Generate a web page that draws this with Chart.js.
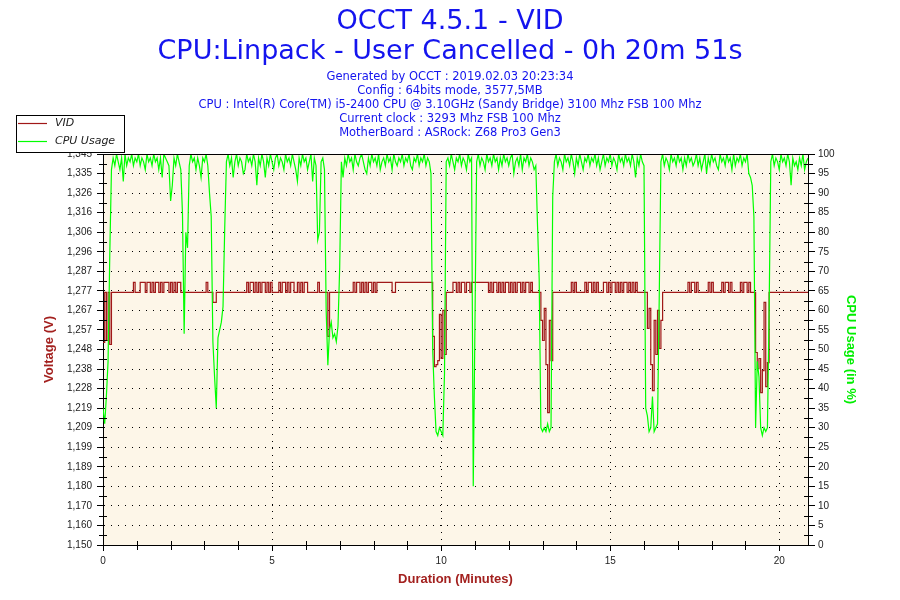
<!DOCTYPE html>
<html>
<head>
<meta charset="utf-8">
<title>OCCT 4.5.1 - VID</title>
<script src="https://cdn.jsdelivr.net/npm/chart.js@4.4.1/dist/chart.umd.min.js"></script>
<style>
  html, body { margin: 0; padding: 0; background: #fff; }
  #wrap { width: 900px; height: 600px; }
</style>
</head>
<body>
<div id="wrap"><canvas id="grafico" width="900" height="600"></canvas></div>
<script>
// Header texts
const titleLines = ['OCCT 4.5.1 - VID', 'CPU:Linpack - User Cancelled - 0h 20m 51s'];
const infoLines = [
  'Generated by OCCT : 2019.02.03 20:23:34',
  'Config : 64bits mode, 3577,5MB',
  'CPU : Intel(R) Core(TM) i5-2400 CPU @ 3.10GHz (Sandy Bridge) 3100 Mhz FSB 100 Mhz',
  'Current clock : 3293 Mhz FSB 100 Mhz',
  'MotherBoard : ASRock: Z68 Pro3 Gen3'
];
const seriesNames = ['VID', 'CPU Usage'];
const seriesColors = ['#a01818', '#00ff00'];

// One sample every 3 seconds
const sampleSeconds = 3;

const vidValues = [
  1.251, 1.276, 1.252, 1.276, 1.250, 1.276, 1.276, 1.276, 1.276, 1.276,
  1.276, 1.276, 1.276, 1.276, 1.276, 1.276, 1.276, 1.276, 1.281, 1.276,
  1.276, 1.276, 1.281, 1.281, 1.281, 1.276, 1.281, 1.281, 1.276, 1.281,
  1.276, 1.281, 1.281, 1.276, 1.281, 1.276, 1.281, 1.281, 1.281, 1.276,
  1.281, 1.276, 1.281, 1.276, 1.281, 1.281, 1.276, 1.276, 1.276, 1.276,
  1.276, 1.276, 1.276, 1.276, 1.276, 1.276, 1.276, 1.276, 1.276, 1.276,
  1.276, 1.281, 1.276, 1.276, 1.276, 1.271, 1.271, 1.276, 1.276, 1.276,
  1.276, 1.276, 1.276, 1.276, 1.276, 1.276, 1.276, 1.276, 1.276, 1.276,
  1.276, 1.276, 1.276, 1.276, 1.276, 1.281, 1.276, 1.281, 1.281, 1.276,
  1.281, 1.276, 1.281, 1.276, 1.281, 1.281, 1.276, 1.281, 1.276, 1.281,
  1.276, 1.276, 1.276, 1.276, 1.281, 1.276, 1.281, 1.281, 1.276, 1.281,
  1.276, 1.281, 1.281, 1.276, 1.276, 1.281, 1.276, 1.281, 1.276, 1.281,
  1.281, 1.276, 1.276, 1.276, 1.276, 1.276, 1.276, 1.281, 1.276, 1.276,
  1.276, 1.276, 1.276, 1.254, 1.276, 1.276, 1.276, 1.276, 1.276, 1.276,
  1.276, 1.276, 1.276, 1.276, 1.276, 1.276, 1.276, 1.276, 1.281, 1.276,
  1.281, 1.281, 1.276, 1.281, 1.276, 1.281, 1.276, 1.281, 1.281, 1.276,
  1.281, 1.276, 1.281, 1.281, 1.281, 1.281, 1.281, 1.281, 1.281, 1.281,
  1.281, 1.276, 1.276, 1.281, 1.281, 1.281, 1.281, 1.281, 1.281, 1.281,
  1.281, 1.281, 1.281, 1.281, 1.281, 1.281, 1.281, 1.281, 1.281, 1.281,
  1.281, 1.281, 1.281, 1.281, 1.281, 1.254, 1.239, 1.240, 1.242, 1.265,
  1.243, 1.267, 1.245, 1.276, 1.276, 1.276, 1.276, 1.281, 1.281, 1.276,
  1.281, 1.276, 1.281, 1.281, 1.276, 1.281, 1.281, 1.276, 1.281, 1.281,
  1.281, 1.281, 1.281, 1.281, 1.281, 1.281, 1.281, 1.281, 1.276, 1.281,
  1.276, 1.281, 1.281, 1.276, 1.281, 1.276, 1.281, 1.276, 1.281, 1.281,
  1.276, 1.281, 1.276, 1.281, 1.276, 1.281, 1.281, 1.276, 1.281, 1.276,
  1.281, 1.281, 1.276, 1.281, 1.276, 1.276, 1.276, 1.276, 1.276, 1.262,
  1.252, 1.268, 1.240, 1.216, 1.262, 1.242, 1.276, 1.276, 1.276, 1.276,
  1.276, 1.276, 1.276, 1.276, 1.276, 1.276, 1.276, 1.281, 1.276, 1.281,
  1.276, 1.276, 1.276, 1.276, 1.276, 1.281, 1.276, 1.281, 1.281, 1.276,
  1.281, 1.276, 1.281, 1.276, 1.276, 1.276, 1.281, 1.281, 1.276, 1.281,
  1.276, 1.281, 1.281, 1.276, 1.281, 1.276, 1.281, 1.276, 1.281, 1.281,
  1.276, 1.281, 1.276, 1.281, 1.276, 1.281, 1.276, 1.276, 1.276, 1.276,
  1.276, 1.276, 1.258, 1.268, 1.240, 1.227, 1.262, 1.245, 1.267, 1.248,
  1.262, 1.276, 1.276, 1.276, 1.276, 1.276, 1.276, 1.276, 1.276, 1.276,
  1.276, 1.276, 1.276, 1.276, 1.276, 1.276, 1.281, 1.276, 1.281, 1.281,
  1.276, 1.281, 1.276, 1.276, 1.276, 1.276, 1.276, 1.276, 1.281, 1.276,
  1.281, 1.276, 1.276, 1.276, 1.276, 1.276, 1.281, 1.276, 1.281, 1.281,
  1.276, 1.281, 1.276, 1.276, 1.276, 1.276, 1.276, 1.281, 1.276, 1.281,
  1.281, 1.276, 1.281, 1.276, 1.276, 1.276, 1.246, 1.238, 1.243, 1.226,
  1.237, 1.271, 1.229, 1.241, 1.276, 1.276, 1.276, 1.276, 1.276, 1.276,
  1.276, 1.276, 1.276, 1.276, 1.276, 1.276, 1.276, 1.276, 1.276, 1.276,
  1.276, 1.276, 1.276, 1.276, 1.276, 1.276, 1.276, 1.276
];

const cpuValues = [
  35, 31, 38, 47, 74, 96, 99, 97, 100, 98,
  96, 99, 93, 100, 97, 99, 98, 100, 97, 99,
  98, 100, 97, 99, 98, 96, 100, 98, 99, 97,
  100, 98, 99, 96, 99, 94, 100, 99, 98, 97,
  88, 92, 99, 97, 100, 98, 96, 85, 54, 80,
  76, 97, 100, 98, 99, 96, 99, 97, 94, 99,
  98, 100, 97, 90, 84, 52, 43, 35, 53, 55,
  57, 61, 81, 98, 100, 97, 99, 94, 98, 100,
  97, 99, 98, 95, 96, 100, 98, 99, 97, 100,
  98, 92, 99, 97, 100, 98, 94, 99, 97, 100,
  98, 96, 99, 100, 97, 99, 98, 96, 100, 98,
  99, 97, 100, 98, 96, 93, 99, 97, 100, 98,
  99, 96, 98, 100, 93, 99, 97, 78, 80, 98,
  99, 96, 60, 46, 55, 57, 53, 54, 52, 56,
  71, 98, 94, 99, 97, 100, 98, 99, 96, 100,
  98, 97, 99, 100, 98, 96, 95, 99, 97, 100,
  98, 99, 97, 100, 96, 98, 99, 97, 100, 98,
  99, 96, 100, 98, 97, 99, 98, 100, 97, 99,
  98, 100, 97, 96, 99, 98, 100, 97, 99, 98,
  100, 97, 99, 98, 95, 50, 38, 29, 28, 30,
  29, 28, 44, 98, 99, 97, 100, 98, 96, 99,
  98, 100, 97, 99, 98, 96, 100, 98, 99, 15,
  56, 98, 100, 97, 99, 98, 96, 100, 98, 99,
  97, 100, 98, 99, 96, 99, 97, 100, 98, 99,
  97, 99, 100, 95, 98, 99, 97, 100, 96, 99,
  98, 100, 97, 99, 98, 96, 97, 82, 68, 30,
  29, 30, 29, 31, 29, 30, 89, 98, 100, 97,
  99, 98, 96, 100, 98, 99, 97, 100, 98, 95,
  99, 97, 100, 98, 96, 99, 98, 100, 97, 99,
  98, 100, 97, 99, 96, 98, 100, 97, 99, 98,
  100, 97, 99, 98, 96, 100, 98, 99, 97, 100,
  98, 99, 97, 100, 98, 94, 99, 97, 100, 98,
  97, 35, 33, 29, 30, 38, 29, 30, 31, 63,
  98, 100, 97, 99, 98, 96, 100, 98, 99, 97,
  100, 98, 99, 96, 99, 97, 100, 98, 99, 97,
  98, 100, 97, 99, 96, 98, 100, 95, 99, 97,
  100, 98, 99, 97, 96, 100, 98, 99, 97, 100,
  98, 99, 96, 100, 97, 99, 98, 100, 97, 99,
  98, 100, 95, 94, 92, 84, 30, 47, 43, 30,
  28, 30, 29, 30, 60, 98, 100, 97, 99, 98,
  96, 100, 98, 99, 97, 100, 98, 92, 99, 97,
  98, 96, 99, 97, 100, 96, 98, 99
];

// Axis tick labels as printed by OCCT
const voltTickLabels = ['1,150', '1,160', '1,170', '1,180', '1,189', '1,199', '1,209', '1,219', '1,228', '1,238',
  '1,248', '1,257', '1,267', '1,277', '1,287', '1,296', '1,306', '1,316', '1,326', '1,335', '1,345'];
const cpuTickLabels = ['0', '5', '10', '15', '20', '25', '30', '35', '40', '45', '50',
  '55', '60', '65', '70', '75', '80', '85', '90', '95', '100'];
const minuteTicks = [0, 5, 10, 15, 20];
const durationMinutes = 20 + 51 / 60;

const voltMin = parseFloat(voltTickLabels[0].replace(',', '.'));
const voltMax = parseFloat(voltTickLabels[voltTickLabels.length - 1].replace(',', '.'));

// Sample time in minutes
const minutes = vidValues.map((_, i) => i * sampleSeconds / 60);

const axisRed = '#a3211f';
const tickFont = { family: '"Liberation Sans", Arial, sans-serif', size: 10 };

// Background, frame, minor ticks, titles and legend box
const occtLook = {
  id: 'occtLook',
  beforeDraw(chart) {
    const { ctx, chartArea: a } = chart;
    ctx.save();
    ctx.fillStyle = '#ffffff';
    ctx.fillRect(0, 0, chart.width, chart.height);
    ctx.fillStyle = '#fdf6e8';
    ctx.fillRect(a.left, a.top, a.right - a.left, a.bottom - a.top);
    ctx.restore();
  },
  afterDatasetsDraw(chart) {
    const { ctx, chartArea: a, scales } = chart;
    ctx.save();
    ctx.strokeStyle = '#000';
    ctx.lineWidth = 1;
    ctx.beginPath();
    ctx.moveTo(a.left, Math.round(a.top) + 0.5);
    ctx.lineTo(a.right, Math.round(a.top) + 0.5);
    for (let m = 1; m < durationMinutes; m++) {
      if (minuteTicks.includes(m)) continue;
      const px = Math.round(scales.x.getPixelForValue(m)) + 0.5;
      ctx.moveTo(px, a.bottom - 4);
      ctx.lineTo(px, a.bottom + 5);
    }
    const yt = scales.y.ticks;
    for (let k = 0; k < yt.length - 1; k++) {
      const py = Math.round(scales.y.getPixelForValue((yt[k].value + yt[k + 1].value) / 2)) + 0.5;
      ctx.moveTo(a.left - 4, py);
      ctx.lineTo(a.left + 4, py);
    }
    const ct = scales.y1.ticks;
    for (let k = 0; k < ct.length - 1; k++) {
      const py = Math.round(scales.y1.getPixelForValue((ct[k].value + ct[k + 1].value) / 2)) + 0.5;
      ctx.moveTo(a.right - 4, py);
      ctx.lineTo(a.right + 5, py);
    }
    ctx.stroke();
    ctx.restore();
  },
  afterDraw(chart) {
    const ctx = chart.ctx;
    ctx.save();
    ctx.textAlign = 'center';
    ctx.textBaseline = 'middle';
    ctx.fillStyle = '#1414ee';
    ctx.font = '27px "DejaVu Sans", Verdana, sans-serif';
    titleLines.forEach((t, k) => ctx.fillText(t, 450, 22 + k * 30));
    ctx.font = '11.5px "DejaVu Sans", Verdana, sans-serif';
    infoLines.forEach((t, k) => ctx.fillText(t, 450, 77 + k * 14));

    // legend box
    ctx.fillStyle = '#ffffff';
    ctx.fillRect(16, 115, 108, 37);
    ctx.strokeStyle = '#000';
    ctx.lineWidth = 1;
    ctx.strokeRect(16.5, 115.5, 108, 37);
    ctx.textAlign = 'left';
    ctx.font = 'italic 11px "DejaVu Sans", Verdana, sans-serif';
    seriesNames.forEach((name, k) => {
      const y = 123.5 + k * 18;
      ctx.strokeStyle = seriesColors[k];
      ctx.lineWidth = 1.2;
      ctx.beginPath();
      ctx.moveTo(18, y);
      ctx.lineTo(47, y);
      ctx.stroke();
      ctx.fillStyle = '#222';
      ctx.fillText(name, 55, y);
    });
    ctx.restore();
  }
};

new Chart(document.getElementById('grafico'), {
  type: 'line',
  data: {
    datasets: [
      {
        label: seriesNames[0],
        data: vidValues.map((v, i) => ({ x: minutes[i], y: v })),
        yAxisID: 'y',
        borderColor: seriesColors[0],
        borderWidth: 1.2,
        pointRadius: 0,
        stepped: true,
        order: 1
      },
      {
        label: seriesNames[1],
        data: cpuValues.map((v, i) => ({ x: minutes[i], y: v })),
        yAxisID: 'y1',
        borderColor: seriesColors[1],
        borderWidth: 1.2,
        pointRadius: 0,
        order: 0
      }
    ]
  },
  options: {
    responsive: false,
    animation: false,
    events: [],
    layout: { padding: { top: 154, left: 0, right: 0, bottom: 0 } },
    plugins: {
      legend: { display: false },
      tooltip: { enabled: false }
    },
    scales: {
      x: {
        type: 'linear',
        min: 0,
        max: durationMinutes,
        afterBuildTicks: (axis) => { axis.ticks = minuteTicks.map(v => ({ value: v })); },
        afterFit: (axis) => { axis.height = 55; },
        ticks: { font: tickFont, color: '#222', padding: 4, maxRotation: 0 },
        grid: { color: '#000', tickColor: '#000', tickLength: 6, lineWidth: 1 },
        border: { display: true, color: '#000', width: 1, dash: [1, 6] },
        title: {
          display: true, text: 'Duration (Minutes)', color: axisRed,
          font: { family: '"Liberation Sans", Arial, sans-serif', size: 13, weight: 'bold' },
          padding: { top: 0, bottom: 13 }
        }
      },
      y: {
        type: 'linear',
        position: 'left',
        min: voltMin,
        max: voltMax,
        afterBuildTicks: (axis) => {
          const n = voltTickLabels.length - 1;
          axis.ticks = voltTickLabels.map((_, k) => ({ value: voltMin + k * (voltMax - voltMin) / n }));
        },
        afterFit: (axis) => { axis.width = 103; },
        ticks: { font: tickFont, color: '#222', padding: 5, callback: (v, i) => voltTickLabels[i] },
        grid: { color: '#000', tickColor: '#000', tickLength: 6, lineWidth: 1 },
        border: { display: true, color: '#000', width: 1, dash: [1, 6] },
        title: {
          display: true, text: 'Voltage (V)', color: axisRed,
          font: { family: '"Liberation Sans", Arial, sans-serif', size: 13, weight: 'bold' },
          padding: { top: 42, bottom: 0 }
        }
      },
      y1: {
        type: 'linear',
        position: 'right',
        min: 0,
        max: 100,
        afterBuildTicks: (axis) => {
          axis.ticks = cpuTickLabels.map(t => ({ value: parseFloat(t) }));
        },
        afterFit: (axis) => { axis.width = 92; },
        ticks: { font: tickFont, color: '#222', padding: 3, callback: (v, i) => cpuTickLabels[i] },
        grid: { drawOnChartArea: false, color: '#000', tickColor: '#000', tickLength: 7 },
        border: { display: true, color: '#000', width: 1 },
        title: {
          display: true, text: 'CPU Usage (in %)', color: '#00ee00',
          font: { family: '"Liberation Sans", Arial, sans-serif', size: 13, weight: 'bold' },
          padding: { top: 42, bottom: 0 }
        }
      }
    }
  },
  plugins: [occtLook]
});
</script>
</body>
</html>
